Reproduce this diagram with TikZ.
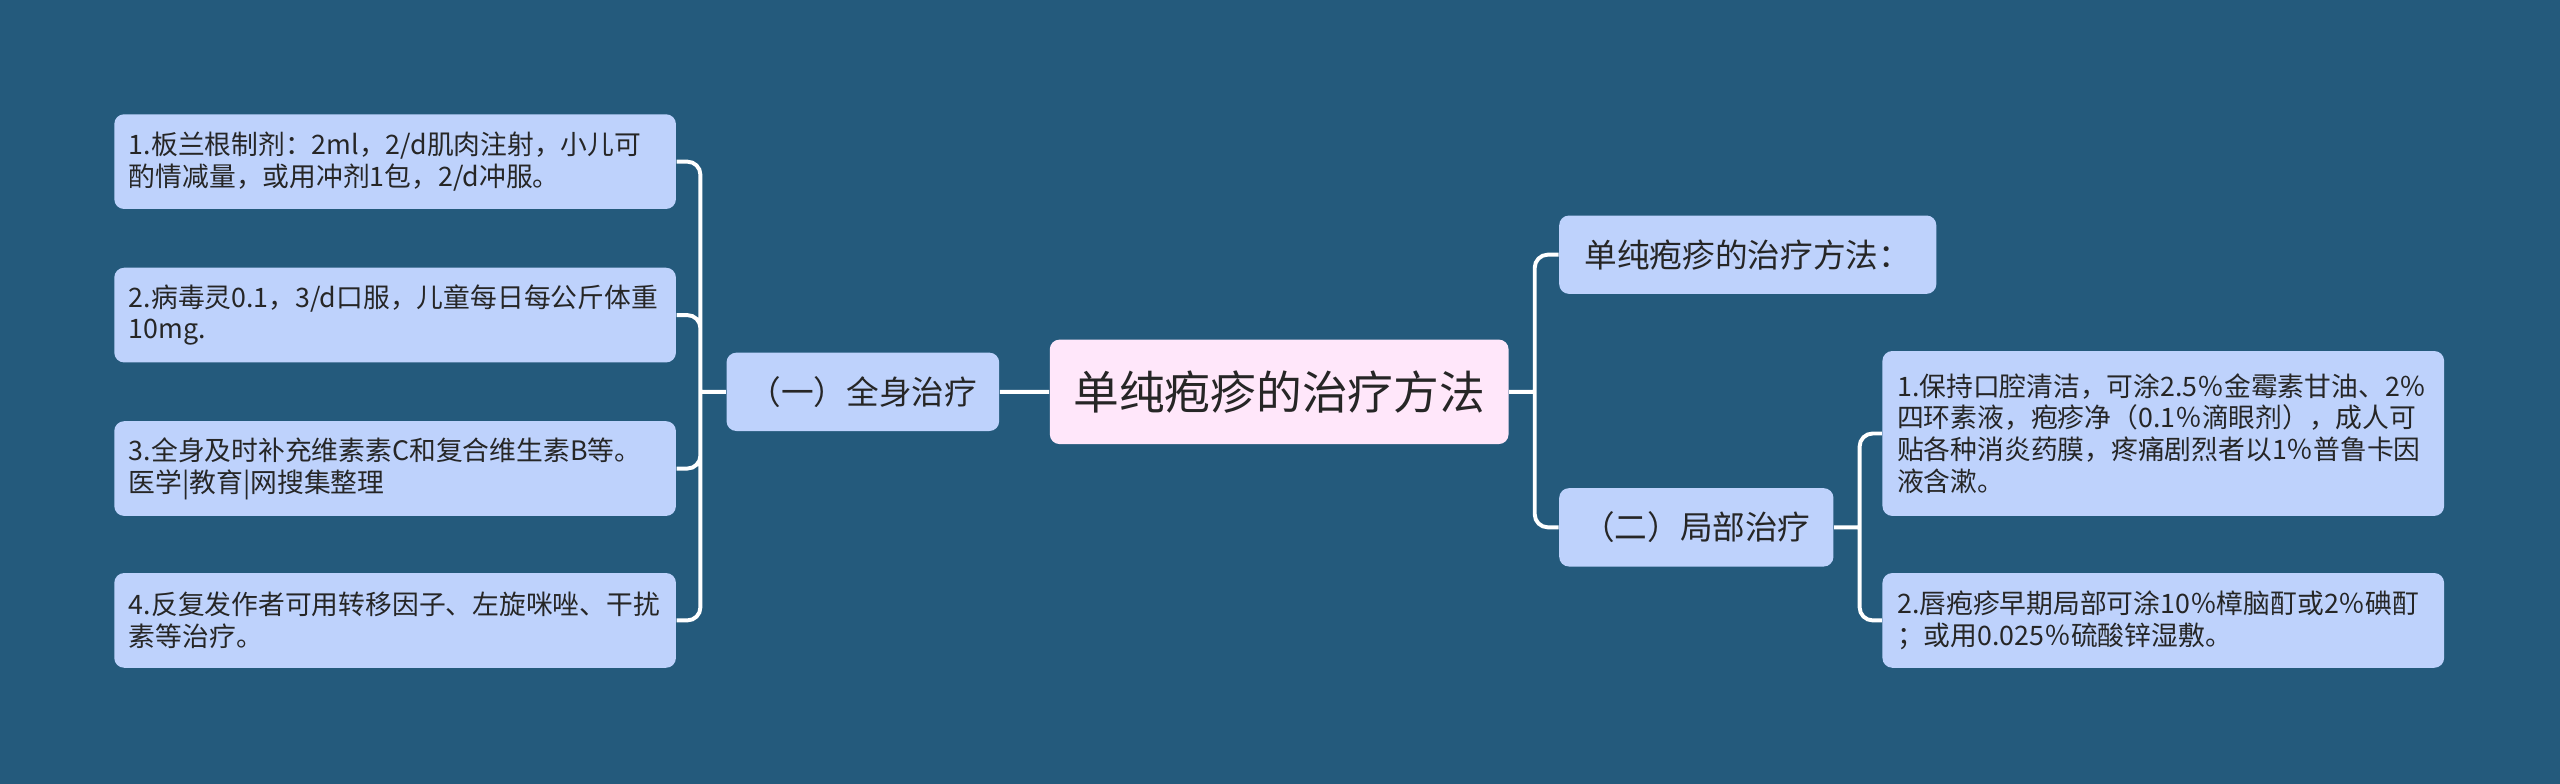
\documentclass[tikz,border=0pt]{standalone}
\usepackage{fontspec}
\usepackage{tikz}
\newfontfamily\cjk{Noto Sans CJK SC}
\definecolor{bgblue}{HTML}{245A7C}
\definecolor{boxblue}{HTML}{BED2FC}
\definecolor{rootpink}{HTML}{FFE7FA}
\definecolor{ink}{HTML}{262626}
\begin{document}
\begin{tikzpicture}[x=0.5pt,y=-0.5pt,
    box/.style={fill=boxblue, rounded corners=3pt, text=ink, inner sep=0pt},
    leaf/.style={box, font=\cjk\fontsize{8.2pt}{9.7pt}\selectfont, align=left,
      text width=163pt, minimum width=172pt, inner xsep=4.5pt},
    branch/.style={box, font=\cjk\fontsize{10pt}{12pt}\selectfont, minimum height=24pt},
    root/.style={box, fill=rootpink, font=\cjk\fontsize{14pt}{16pt}\selectfont,
      minimum width=140.5pt, minimum height=32pt},
    link/.style={draw=white, line width=1.2pt, rounded corners=4pt}]
            \fill[bgblue] (0,0) rectangle (1568,480);
            \useasboundingbox (0,0) rectangle (1568,480);

            \node (root) at (783.5,240) [root] {单纯疱疹的治疗方法};

            % left side
            \node (lmid) at (528.5,240) [branch, minimum width=83.5pt] {（一）全身治疗};
            \coordinate (lj) at (429,240);

            \node (l1) at (242,99) [leaf, minimum height=29pt]
              {1.板兰根制剂：2ml，2/d肌肉注射，小儿可\\酌情减量，或用冲剂1包，2/d冲服。};
            \node (l2) at (242,193) [leaf, minimum height=29pt]
              {2.病毒灵0.1，3/d口服，儿童每日每公斤体重\\10mg.};
            \node (l3) at (242,287) [leaf, minimum height=29pt]
              {3.全身及时补充维素素C和复合维生素B等。\\医学|教育|网搜集整理};
            \node (l4) at (242,380) [leaf, minimum height=29pt]
              {4.反复发作者可用转移因子、左旋咪唑、干扰\\素等治疗。};

            % right side
            \coordinate (rj) at (940,240);
            \node (rtop) at (1070.5,156) [branch, minimum width=115.5pt] {单纯疱疹的治疗方法：};
            \node (rmid) at (1039,323) [branch, minimum width=84pt] {（二）局部治疗};
            \coordinate (rj2) at (1139,323);

            \node (r1) at (1325,265.5) [leaf, minimum height=50.5pt]
              {1.保持口腔清洁，可涂2.5％金霉素甘油、2％\\四环素液，疱疹净（0.1％滴眼剂），成人可\\贴各种消炎药膜，疼痛剧烈者以1％普鲁卡因\\液含漱。};
            \node (r2) at (1325,380) [leaf, minimum height=29pt]
              {2.唇疱疹早期局部可涂10％樟脑酊或2％碘酊\\；或用0.025％硫酸锌湿敷。};

            \draw[link]
            (root) to (lmid)
            (lmid.west) to (lj)
            (lj) |- (l1.east)
            (lj) |- (l2.east)
            (lj) |- (l3.east)
            (lj) |- (l4.east)
            (root.east) to (rj)
            (rj) |- (rtop.west)
            (rj) |- (rmid.west)
            (rmid.east) to (rj2)
            (rj2) |- (r1.west)
            (rj2) |- (r2.west);
\end{tikzpicture}
\end{document}
